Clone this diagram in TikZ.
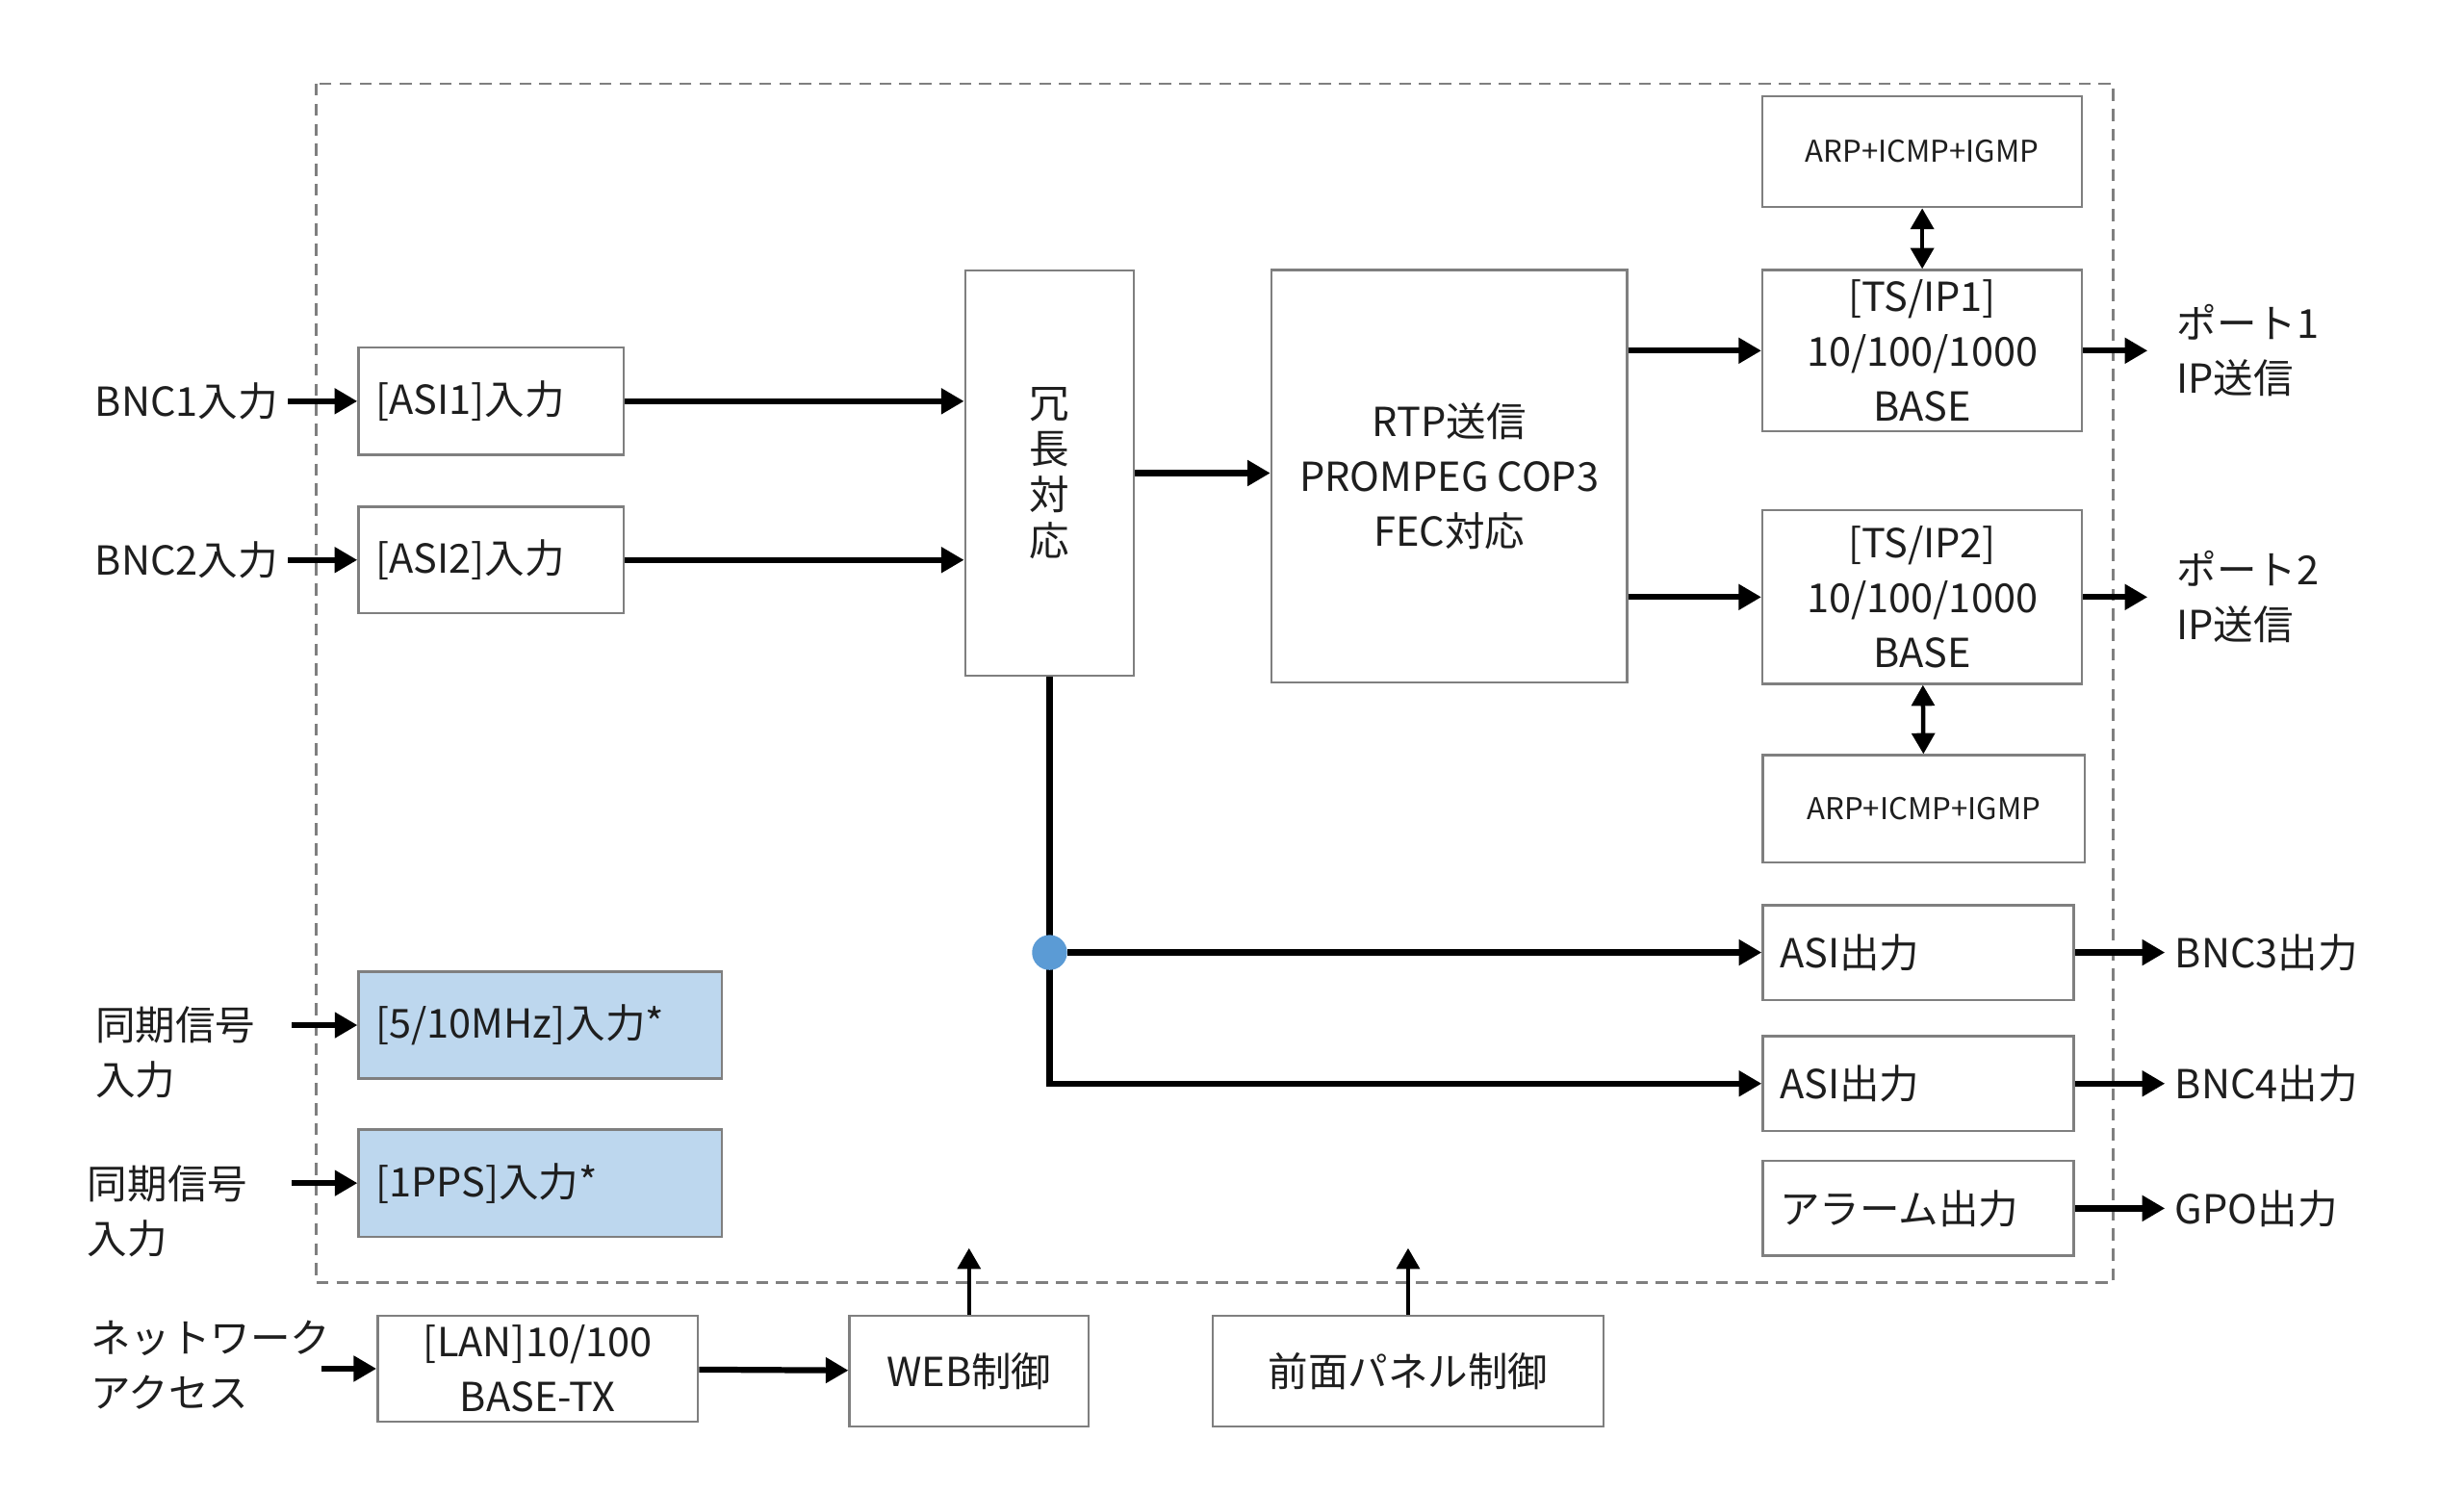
\documentclass[tikz,border=0pt]{standalone}
\usepackage{fontspec}
\setmainfont{Noto Sans CJK JP}
\usepackage{tikz}
\usetikzlibrary{arrows.meta, positioning}
\usepackage{xcolor}
\definecolor{boxgray}{HTML}{7F7F7F}
\definecolor{syncblue}{HTML}{BDD7EE}
\definecolor{dotblue}{HTML}{5B9BD5}
\definecolor{inkgray}{HTML}{1E1E1E}
\tikzset{%
	block/.style={
		draw=boxgray,
		line width=0.7pt,
		fill=white,
		inner xsep=0.18cm,
		inner ysep=0pt,
		align=center
	},
	lblock/.style={
		block,
		align=left,
		text width=#1
	},
	lbl/.style={
		inner sep=0.1cm
	},
	sigarrow/.style={
		line width=1.8pt,
		-{Triangle[length=2.4mm,width=2.6mm]}
	},
	duplex/.style={
		line width=1.3pt,
		{Triangle[length=2.2mm,width=2.4mm]}-{Triangle[length=2.2mm,width=2.4mm]}
	},
}

\begin{document}
\begin{tikzpicture}[
				x=0.016667cm, y=-0.016667cm,
				every node/.style={font=\fontsize{12}{16.5}\selectfont, text=inkgray},
				small/.style={font=\fontsize{9}{11}\selectfont},
				frame/.style={draw=boxgray, line width=0.8pt, dash pattern=on 3.6pt off 2.4pt},
				dot/.style={circle, fill=dotblue, inner sep=0pt, minimum size=0.37cm}
				]
				\useasboundingbox (0,0) rectangle (1560,943);
				\draw[frame] (200,53) rectangle (1338,812);
				
				% Nodes of the diagram
				\node[block, small, minimum width=3.37cm, minimum height=1.17cm] (arpA) at (1217,96) {ARP+ICMP+IGMP};
				\node[block, minimum width=3.37cm, minimum height=1.70cm] (tsipA) at (1217,222) {[TS/IP1]\\10/100/1000\\BASE};
				\node[block, minimum width=3.37cm, minimum height=1.83cm] (tsipB) at (1217,378) {[TS/IP2]\\10/100/1000\\BASE};
				\node[block, small, minimum width=3.40cm, minimum height=1.13cm] (arpB) at (1218,512) {ARP+ICMP+IGMP};
				\node[lblock=2.92cm, minimum height=1cm] (asioutA) at (1214.5,603) {ASI出力};
				\node[lblock=2.92cm, minimum height=1cm] (asioutB) at (1214.5,686) {ASI出力};
				\node[lblock=2.92cm, minimum height=1cm] (alarm) at (1214.5,765) {アラーム出力};
				\node[block, minimum width=3.75cm, minimum height=4.35cm] (rtp) at (917.5,301.5) {RTP送信\\PROMPEG COP3\\FEC対応};
				\node[block, minimum width=1.78cm, minimum height=4.28cm, font=\fontsize{12}{13.8}\selectfont] (redund) at (664.5,299.5) {冗\\長\\対\\応};
				\node[lblock=2.44cm, minimum height=1.13cm] (asiA) at (311,254) {[ASI1]入力};
				\node[lblock=2.44cm, minimum height=1.12cm] (asiB) at (311,354.5) {[ASI2]入力};
				\node[lblock=3.47cm, minimum height=1.13cm, fill=syncblue] (mhz) at (342,649) {[5/10MHz]入力*};
				\node[lblock=3.47cm, minimum height=1.13cm, fill=syncblue] (pps) at (342,749) {[1PPS]入力*};
				\node[block, minimum width=3.38cm, minimum height=1.12cm] (lan) at (340.5,866.5) {[LAN]10/100\\BASE-TX};
				\node[block, minimum width=2.52cm, minimum height=1.17cm] (web) at (613.5,868) {WEB制御};
				\node[block, minimum width=4.12cm, minimum height=1.17cm] (panel) at (891.5,868) {前面パネル制御};
				
				% Outside labels
				\node[lbl, left=0.73cm of asiA] (bncA) {BNC1入力};
				\node[lbl, left=0.73cm of asiB] (bncB) {BNC2入力};
				\node[lbl, align=left, anchor=west] (syncA) at (54,666) {同期信号\\入力};
				\node[lbl, align=left, anchor=west] (syncB) at (49,767) {同期信号\\入力};
				\node[lbl, align=left, anchor=west] (net) at (51,864) {ネットワーク\\アクセス};
				\node[lbl, align=left, right=0.88cm of tsipA] (portA) {ポート1\\IP送信};
				\node[lbl, align=left, right=0.88cm of tsipB] (portB) {ポート2\\IP送信};
				\node[lbl, right=0.95cm of asioutA] (bncC) {BNC3出力};
				\node[lbl, right=0.95cm of asioutB] (bncD) {BNC4出力};
				\node[lbl, right=0.95cm of alarm] (gpo) {GPO出力};
				
				% Connectors
				\draw[sigarrow] (bncA) -- (asiA);
				\draw[sigarrow] (bncB) -- (asiB);
				\draw[sigarrow, shorten <=0.28cm] (syncA.east |- mhz.west) -- (mhz.west);
				\draw[sigarrow, shorten <=0.36cm] (syncB.east |- pps.west) -- (pps.west);
				\draw[sigarrow, shorten <=-0.2cm] (net.east |- lan.west) -- (lan.west);
				\draw[sigarrow] (asiA) -- (asiA -| redund.west);
				\draw[sigarrow] (asiB) -- (asiB -| redund.west);
				\draw[sigarrow] (redund.east) -- (redund.east -| rtp.west);
				\draw[sigarrow] (rtp.east |- tsipA) -- (tsipA);
				\draw[sigarrow] (rtp.east |- tsipB) -- (tsipB);
				\draw[duplex] (arpA) -- (tsipA);
				\draw[duplex] (tsipB) -- (arpB);
				\draw[sigarrow, shorten >=0.2cm] (tsipA) -- (tsipA -| portA.west);
				\draw[sigarrow, shorten >=0.2cm] (tsipB) -- (tsipB -| portB.west);
				\draw[sigarrow] (redund.south) |- (asioutB.west);
				\node[dot] (split) at (redund.south |- asioutA.west) {};
				\draw[sigarrow] (split) -- (asioutA.west);
				\draw[sigarrow] (asioutA) -- (asioutA -| bncC.west);
				\draw[sigarrow] (asioutB) -- (asioutB -| bncD.west);
				\draw[sigarrow] (alarm) -- (alarm -| gpo.west);
				\draw[sigarrow] (lan) -- (web);
				\draw[duplex, -{Triangle[length=2.2mm,width=2.4mm]}] (web.north) -- ([yshift=0.7cm]web.north);
				\draw[duplex, -{Triangle[length=2.2mm,width=2.4mm]}] (panel.north) -- ([yshift=0.7cm]panel.north);
				
			\end{tikzpicture}
\end{document}
